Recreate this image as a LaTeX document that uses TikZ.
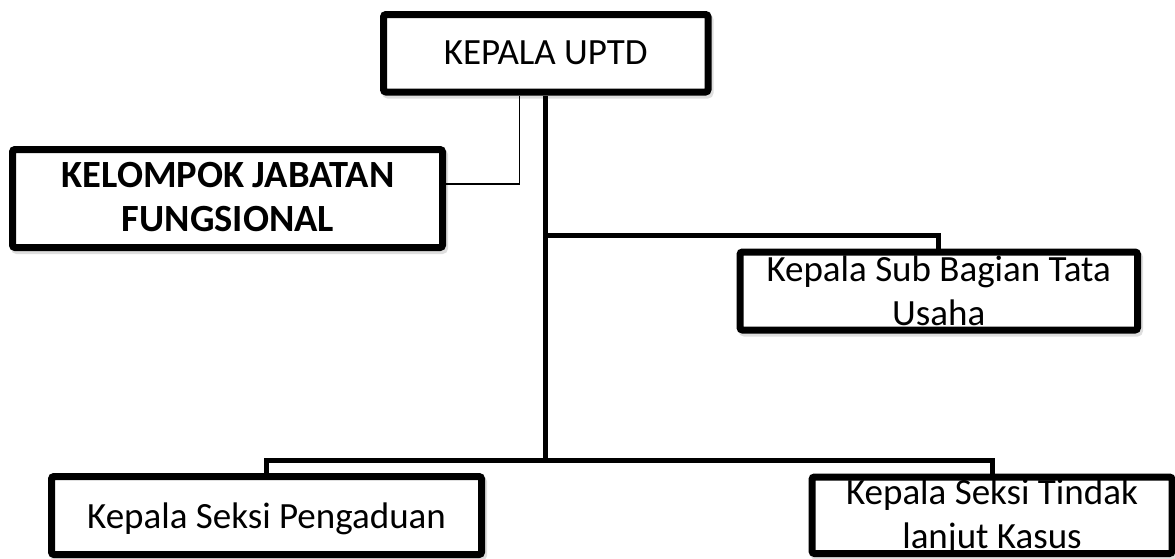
\documentclass[tikz,border=0pt]{standalone}
\usepackage{fontspec}
\setmainfont{Carlito}
\begin{document}
\begin{tikzpicture}[x=1pt,y=-1pt,
  box/.style={draw=black, line width=7pt, fill=white, rounded corners=2.5pt, inner sep=0pt,
    preaction={draw=black, draw opacity=0.13, line width=7pt, transform canvas={xshift=2pt,yshift=-3pt}}},
  lbl/.style={font=\fontsize{37}{44}\selectfont, align=center, inner sep=0pt, anchor=base},
  bar/.style={line width=5pt},
  fine/.style={line width=1.3pt}]
\useasboundingbox (0,0) rectangle (1175,558);

% boxes
\node[box, minimum width=324.5pt, minimum height=77.5pt] (top)  at (545.75,53.25) {};
\node[box, minimum width=430pt,   minimum height=98pt]   (kel)  at (227.5,198.5) {};
\node[box, minimum width=397.5pt, minimum height=78pt]   (sub)  at (938.75,291) {};
\node[box, minimum width=430pt,   minimum height=78pt]   (peng) at (266.5,515.5) {};
\node[box, minimum width=360pt,   minimum height=76.5pt] (tind) at (992,515.25) {};

% helper coordinates
\coordinate (jx)   at (519.3,184);
\coordinate (suby) at (545.5,235.5);
\coordinate (busy) at (545.5,460.5);

% connectors
\draw[fine] (top.south -| jx) |- (kel.east |- jx);
\draw[bar] (top.south) -- (top.south |- busy);
\draw[bar] (top.south |- suby) -| (sub.north);
\draw[bar] (peng.north) -- (peng.north |- busy) -| (tind.north);

% texts (base anchor = baseline of the last line)
\node[lbl] (topT) at (545.75,64) {KEPALA UPTD};
\node[lbl, font=\fontsize{38.5}{44}\selectfont\bfseries] (kelT) at (228,231) {KELOMPOK JABATAN\\FUNGSIONAL};
\node[lbl] (subT) at (938.75,325) {Kepala Sub Bagian Tata\\Usaha};
\node[lbl] (pengT) at (266.5,528) {Kepala Seksi Pengaduan};
\node[lbl] (tindT) at (992,548) {Kepala Seksi Tindak\\lanjut Kasus};
\end{tikzpicture}
\end{document}
